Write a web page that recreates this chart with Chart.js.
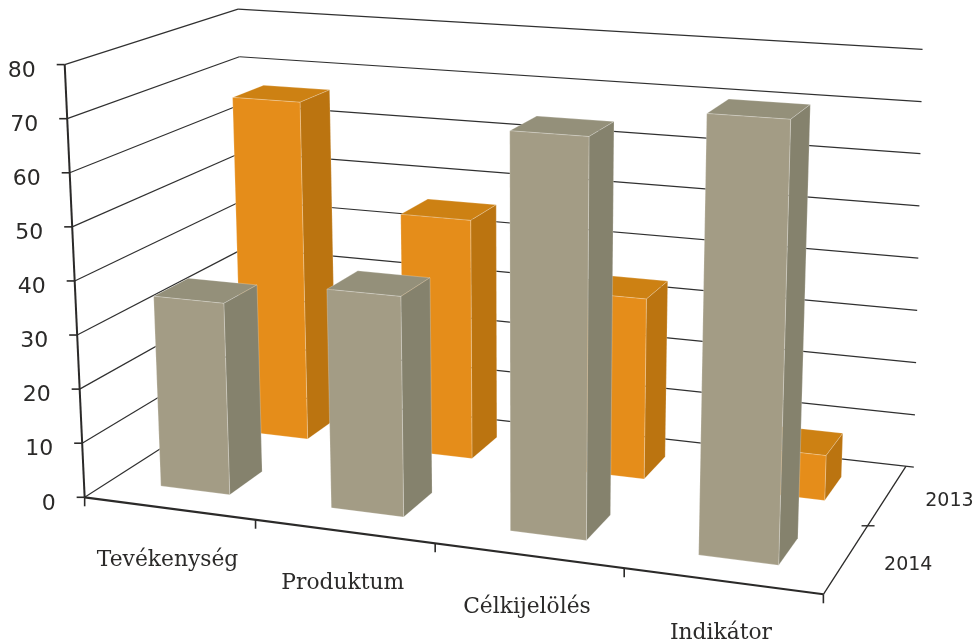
<!DOCTYPE html>
<html>
<head>
<meta charset="utf-8">
<style>html,body{margin:0;padding:0;background:#fff}canvas{display:block}</style>
<script src="https://cdn.jsdelivr.net/npm/chart.js@4"></script>
</head>
<body>
<canvas id="chart" width="980" height="639"></canvas>
<script>
// Values per year, one entry per category
const categories = ['Tevékenység', 'Produktum', 'Célkijelölés', 'Indikátor'];
const depthLabels = ['2014', '2013'];
const values2014 = [35.5, 40, 71.5, 77];
const values2013 = [66.5, 46, 34, 8.3];
const valueTicksMax = 80;
const valueTickStep = 10;

// Face colours of the boxes: front, side, top
const grey = ['#a39c85', '#85826d', '#94907a'];
const orange = ['#e58d1a', '#bb7410', '#cd8113'];

// Perspective camera: maps the unit box (u along categories, v up, z into the page) to the canvas
const CAM = [658.7739, -22.76047, 198.35392, 84.65881,
             39.2771, -435.5, -51.8063, 497.2935,
             -0.0971, -0.04341, 0.1367];
const V_WEIGHT = 1 + CAM[9];

function project(u, v, z) {
  // Even spacing up the value axis despite the camera tilt
  const lifted = v / (V_WEIGHT + (1 - V_WEIGHT) * v);
  const w = CAM[8] * u + CAM[9] * lifted + CAM[10] * z + 1;
  return [(CAM[0] * u + CAM[1] * lifted + CAM[2] * z + CAM[3]) / w,
          (CAM[4] * u + CAM[5] * lifted + CAM[6] * z + CAM[7]) / w];
}

const INK = '#2b2a29';
const GRID = '#303030';
const BOX_DEPTH = 0.40;  // share of a depth slot taken by a box

function segment(ctx, a, b, width, color) {
  ctx.beginPath();
  ctx.moveTo(a[0], a[1]);
  ctx.lineTo(b[0], b[1]);
  ctx.lineWidth = width;
  ctx.strokeStyle = color;
  ctx.stroke();
}

function face(ctx, pts, fill, edge) {
  ctx.beginPath();
  pts.forEach((p, i) => i ? ctx.lineTo(p[0], p[1]) : ctx.moveTo(p[0], p[1]));
  ctx.closePath();
  ctx.fillStyle = fill;
  ctx.fill();
  ctx.lineWidth = 1;
  ctx.strokeStyle = edge;
  ctx.stroke();
}

const box3d = {
  id: 'box3d',
  // Walls, floor axes and their tick marks
  beforeDatasetsDraw(chart) {
    const { ctx, scales: { x, y } } = chart;
    ctx.save();
    ctx.lineCap = 'butt';
    y.ticks.forEach(t => {
      const v = (y.bottom - y.getPixelForValue(t.value)) / y.height;
      const front = project(0, v, 0), back = project(0, v, 1);
      const right = project(1 + 0.011 * (1 - v), v, 1);
      segment(ctx, front, back, 1.2, GRID);
      segment(ctx, back, right, 1.2, GRID);
      segment(ctx, front, [front[0] - 8, front[1]], 1.6, INK);
    });
    segment(ctx, project(0, 0, 0), project(0, 1, 0), 2, INK);
    segment(ctx, project(0, 0, 0), project(1, 0, 0), 2.2, INK);
    segment(ctx, project(1, 0, 0), project(1, 0, 1), 1.3, INK);
    for (let i = 0; i <= categories.length; i++) {
      const p = project(i / categories.length, 0, 0);
      segment(ctx, p, [p[0], p[1] + 9], 1.6, INK);
    }
    depthLabels.slice(1).forEach((_, i) => {
      const p = project(1, 0, (i + 1) / depthLabels.length);
      segment(ctx, [p[0] - 6, p[1]], [p[0] + 7, p[1]], 1.4, INK);
    });
    ctx.restore();
  },
  // Each bar element becomes a box in its depth slot
  beforeDatasetDraw(chart, { meta, index }) {
    const { ctx, scales: { x, y } } = chart;
    const slotStart = (index + (1 - BOX_DEPTH) / 2) / depthLabels.length;
    const slotEnd = (index + (1 + BOX_DEPTH) / 2) / depthLabels.length;
    const shade = chart.data.datasets[index].faces;
    ctx.save();
    ctx.lineJoin = 'round';
    meta.data.slice().reverse().forEach(bar => {
      const u0 = (bar.x - bar.width / 2 - x.left) / x.width;
      const u1 = (bar.x + bar.width / 2 - x.left) / x.width;
      const v = (y.bottom - bar.y) / y.height;
      const f = [project(u0, 0, slotStart), project(u1, 0, slotStart), project(u1, v, slotStart), project(u0, v, slotStart)];
      const b = [project(u0, 0, slotEnd), project(u1, 0, slotEnd), project(u1, v, slotEnd), project(u0, v, slotEnd)];
      const edge = 'rgba(255,255,255,0.22)';
      face(ctx, [f[3], f[2], b[2], b[3]], shade[2], edge);
      face(ctx, [f[1], b[1], b[2], f[2]], shade[1], edge);
      face(ctx, f, shade[0], edge);
    });
    ctx.restore();
    return false;
  },
  // Axis text sits on top of everything
  afterDatasetsDraw(chart) {
    const { ctx, scales: { x, y } } = chart;
    ctx.save();
    ctx.fillStyle = INK;
    ctx.textBaseline = 'middle';
    ctx.textAlign = 'right';
    ctx.font = '22px "DejaVu Sans"';
    y.ticks.forEach(t => {
      const p = project(0, (y.bottom - y.getPixelForValue(t.value)) / y.height, 0);
      ctx.fillText(String(t.value), p[0] - 29, p[1] + 6.5);
    });
    ctx.textAlign = 'center';
    ctx.font = '21.8px "DejaVu Serif"';
    categories.forEach((label, i) => {
      const p = project((x.getPixelForValue(i) - x.left) / x.width, 0, 0);
      ctx.fillText(label, p[0] - 1.5, p[1] + 52);
    });
    ctx.font = '19px "DejaVu Sans"';
    depthLabels.forEach((label, i) => {
      const p = project(1, 0, (i + 0.5) / depthLabels.length);
      ctx.fillText(label, p[0] + 62, p[1] + 6);
    });
    ctx.restore();
  }
};

new Chart(document.getElementById('chart'), {
  type: 'bar',
  data: {
    labels: categories,
    datasets: [
      { label: depthLabels[0], data: values2014, faces: grey, backgroundColor: grey[0], grouped: false },
      { label: depthLabels[1], data: values2013, faces: orange, backgroundColor: orange[0], grouped: false }
    ]
  },
  options: {
    responsive: false,
    animation: false,
    layout: { padding: 0 },
    barPercentage: 0.41,
    categoryPercentage: 1,
    plugins: { legend: { display: false }, tooltip: { enabled: false } },
    scales: {
      x: { display: false, offset: true },
      y: { display: false, min: 0, max: valueTicksMax, ticks: { stepSize: valueTickStep } }
    }
  },
  plugins: [box3d]
});
</script>
</body>
</html>
